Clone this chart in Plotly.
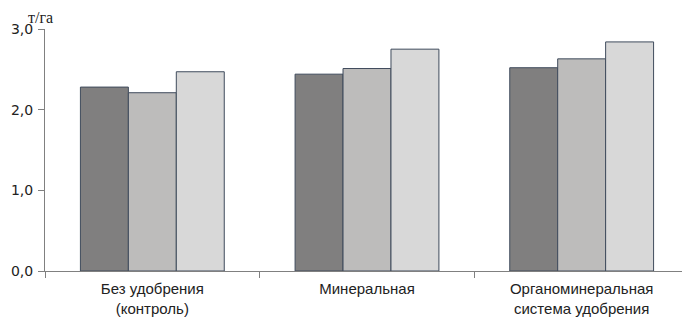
import plotly.graph_objects as go

categories = ["Без удобрения<br>(контроль)", "Минеральная", "Органоминеральная<br>система удобрения"]
series1 = [2.28, 2.44, 2.52]
series2 = [2.21, 2.51, 2.63]
series3 = [2.47, 2.75, 2.84]
y_ticks = [0, 1, 2, 3]
y_tick_labels = ["0,0", "1,0", "2,0", "3,0"]
unit_label = "т/га"

colors = ["#807f7f", "#bdbcbb", "#d8d8d8"]
border = "#3f4b5c"

fig = go.Figure()
for vals, c in zip([series1, series2, series3], colors):
    fig.add_trace(go.Bar(x=categories, y=vals, marker=dict(color=c, line=dict(color=border, width=1))))

# page body has an 8px default margin, so the figure is offset by 8px
fig.update_layout(
    width=682, height=309,
    margin=dict(l=37, r=1, t=21, b=46),
    paper_bgcolor="white", plot_bgcolor="white",
    barmode="group", bargap=0.33, bargroupgap=0,
    showlegend=False,
    xaxis=dict(
        automargin=False,
        showline=True, linecolor="#808080", linewidth=1,
        ticks="outside", ticklen=6, tickcolor="#808080", tickson="boundaries",
        ticklabelstandoff=4,
        tickfont=dict(family="Liberation Sans, Arial", size=15, color="#222"),
        showgrid=False,
    ),
    yaxis=dict(
        automargin=False,
        range=[0, 3], tickvals=y_ticks, ticktext=y_tick_labels,
        showline=True, linecolor="#808080", linewidth=1,
        ticks="outside", ticklen=6, tickcolor="#808080",
        ticklabelstandoff=2,
        tickfont=dict(family="DejaVu Sans", size=14, color="#222"),
        showgrid=False, zeroline=False,
    ),
)
fig.add_annotation(text=unit_label, xref="paper", yref="paper", x=0.0, y=1.0, xshift=-19, yshift=1,
                   xanchor="left", yanchor="bottom", showarrow=False,
                   font=dict(family="Liberation Serif, Times New Roman", size=16, color="#222"))

fig.write_html("out.html")
